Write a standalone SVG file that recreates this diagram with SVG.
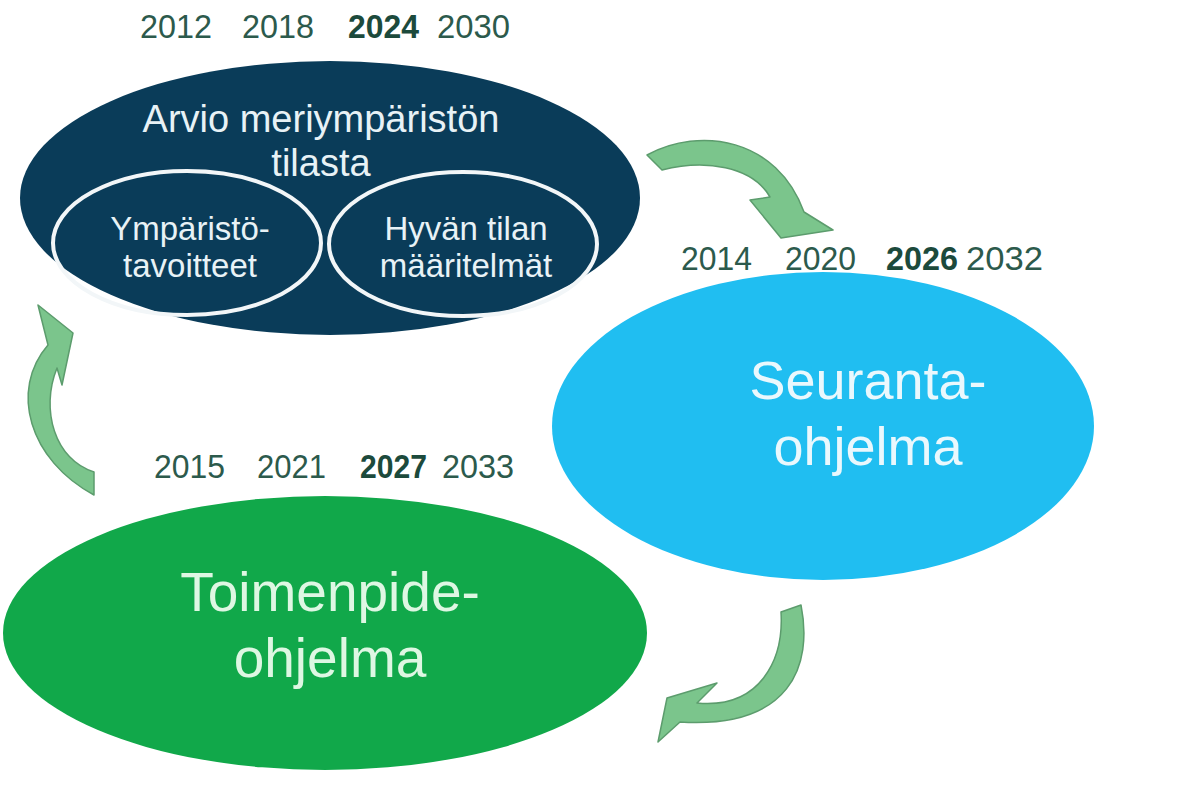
<svg xmlns="http://www.w3.org/2000/svg" width="1181" height="796" viewBox="0 0 1181 796">
<style>
.yr{font-family:"Liberation Sans",Arial,sans-serif;font-size:33px;fill:#2c5a4c}
.yb{font-weight:bold;fill:#1c4a3c}
.lbl{font-family:"Liberation Sans",Arial,sans-serif;text-anchor:middle}
.inner{fill:none;stroke:#f2f6f8;stroke-width:4}
.arrow{fill:#7bc58c;stroke:#5c9c6d;stroke-width:1.5;stroke-linejoin:round}
</style>
<rect width="1181" height="796" fill="#ffffff"/>
<g id="years-top">
<text class="yr" x="140" y="38" textLength="72" lengthAdjust="spacingAndGlyphs">2012</text>
<text class="yr" x="242" y="38" textLength="72" lengthAdjust="spacingAndGlyphs">2018</text>
<text class="yr yb" x="348" y="38" textLength="71" lengthAdjust="spacingAndGlyphs">2024</text>
<text class="yr" x="437" y="38" textLength="73" lengthAdjust="spacingAndGlyphs">2030</text>
</g>
<g id="node-arvio">
<ellipse cx="330" cy="198" rx="310" ry="137" fill="#0a3c59"/>
<text class="lbl" x="321" y="132" font-size="38" fill="#e8f2f6">Arvio meriympäristön</text>
<text class="lbl" x="321" y="176" font-size="38" fill="#e8f2f6">tilasta</text>
</g>
<g id="node-ymparisto">
<ellipse class="inner" cx="187" cy="243" rx="134" ry="72"/>
<text class="lbl" x="190" y="240" font-size="33" fill="#e8f2f6">Ympäristö-</text>
<text class="lbl" x="190" y="277" font-size="33" fill="#e8f2f6">tavoitteet</text>
</g>
<g id="node-hyvan">
<ellipse class="inner" cx="463" cy="244" rx="134" ry="72"/>
<text class="lbl" x="466" y="240" font-size="33" fill="#e8f2f6">Hyvän tilan</text>
<text class="lbl" x="466" y="277" font-size="33" fill="#e8f2f6">määritelmät</text>
</g>
<g id="years-seuranta">
<text class="yr" x="681" y="270" textLength="71" lengthAdjust="spacingAndGlyphs">2014</text>
<text class="yr" x="785" y="270" textLength="71" lengthAdjust="spacingAndGlyphs">2020</text>
<text class="yr yb" x="886" y="270" textLength="72" lengthAdjust="spacingAndGlyphs">2026</text>
<text class="yr" x="966" y="270" textLength="77" lengthAdjust="spacingAndGlyphs">2032</text>
</g>
<g id="node-seuranta">
<ellipse cx="823" cy="426" rx="271" ry="154" fill="#20bef1"/>
<text class="lbl" x="868" y="399" font-size="54" fill="#eaf8fd">Seuranta-</text>
<text class="lbl" x="868" y="465" font-size="54" fill="#eaf8fd">ohjelma</text>
</g>
<g id="years-toimenpide">
<text class="yr" x="154" y="478" textLength="71" lengthAdjust="spacingAndGlyphs">2015</text>
<text class="yr" x="257" y="478" textLength="69" lengthAdjust="spacingAndGlyphs">2021</text>
<text class="yr yb" x="360" y="478" textLength="67" lengthAdjust="spacingAndGlyphs">2027</text>
<text class="yr" x="442" y="478" textLength="72" lengthAdjust="spacingAndGlyphs">2033</text>
</g>
<g id="node-toimenpide">
<ellipse cx="325" cy="633" rx="322" ry="137" fill="#11a84a"/>
<text class="lbl" x="330" y="611" font-size="55" fill="#def7e3">Toimenpide-</text>
<text class="lbl" x="330" y="677" font-size="55" fill="#def7e3">ohjelma</text>
</g>
<g id="connectors">
<path class="arrow" d="M647,155 C700,126 777,138 804,212 L833,230 L781,238 L750,200 L770,197 C752,166 705,159 662,170 Z"/>
<path class="arrow" d="M801,605 C813,665 791,729 680,722 L658,742 L667,698 L717,683 L697,703 C760,709 784,660 781,612 Z"/>
<path class="arrow" d="M94,495 C29,460 9,390 48,345 L38,305 L73,333 L62,385 L57,368 C40,410 55,460 94,472 Z"/>
</g>
</svg>
